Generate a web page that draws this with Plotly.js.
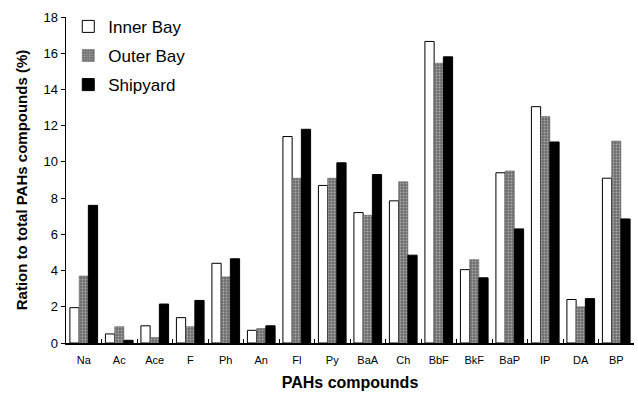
<!DOCTYPE html>
<html><head><meta charset="utf-8">
<script src="https://cdn.plot.ly/plotly-3.0.1.min.js"></script>
<style>html,body{margin:0;padding:0;background:#fff}#c{width:638px;height:394px}</style>
</head><body><div id="c"></div>
<script>
const categories = ["Na","Ac","Ace","F","Ph","An","Fl","Py","BaA","Ch","BbF","BkF","BaP","IP","DA","BP"];
const innerBay = [1.95,0.5,0.95,1.4,4.4,0.7,11.4,8.7,7.2,7.85,16.65,4.05,9.4,13.05,2.4,9.1];
const outerBay = [3.7,0.9,0.3,0.9,3.65,0.8,9.1,9.1,7.05,8.9,15.45,4.6,9.5,12.5,2.0,11.15];
const shipyard = [7.6,0.15,2.15,2.35,4.65,0.95,11.8,9.95,9.3,4.85,15.8,3.6,6.3,11.1,2.45,6.85];
const yTicks = [0,2,4,6,8,10,12,14,16,18];

const traces = [
  {type:'bar', name:'Inner Bay', legendgroup:'a', x:categories, y:innerBay, marker:{color:'#ffffff', line:{color:'#000', width:1}}},
  {type:'bar', name:'Outer Bay', legendgroup:'b', x:categories, y:outerBay, marker:{color:'#8c8c8c', line:{color:'#555', width:0.5}, pattern:{shape:'.', fgcolor:'#aaaaaa', bgcolor:'#6e6e6e', size:3, solidity:0.3}}},
  {type:'bar', name:'Shipyard', legendgroup:'c', x:categories, y:shipyard, marker:{color:'#000000', line:{color:'#000', width:1}}}
];
const layout = {
  width:638, height:394,
  margin:{l:66, r:4, t:17, b:51},
  paper_bgcolor:'#fff', plot_bgcolor:'#fff',
  font:{family:'Liberation Sans, Arial, sans-serif', color:'#000'},
  barmode:'group', bargap:0.22, bargroupgap:0,
  showlegend:true,
  legend:{x:0.004, y:1.025, xanchor:'left', yanchor:'top', font:{size:17}, bgcolor:'rgba(0,0,0,0)', tracegroupgap:4, itemwidth:30},
  xaxis:{type:'category', showline:true, linecolor:'#000', linewidth:2, ticks:'inside', tickson:'boundaries', ticklen:4, tickcolor:'#000',
    tickfont:{size:11}, ticklabelstandoff:6, showgrid:false, zeroline:false,
    title:{text:'<b>PAHs compounds</b>', font:{size:16}, standoff:12}},
  yaxis:{range:[0,18], tickvals:yTicks, showline:true, linecolor:'#000', linewidth:1.5, ticks:'outside', ticklen:4, tickcolor:'#000',
    tickfont:{size:13}, showgrid:false, zeroline:false,
    title:{text:'<b>Ration to total PAHs compounds (%)</b>', font:{size:15}, standoff:12}}
};
Plotly.newPlot('c', traces, layout, {displayModeBar:false, staticPlot:true});
</script></body></html>
